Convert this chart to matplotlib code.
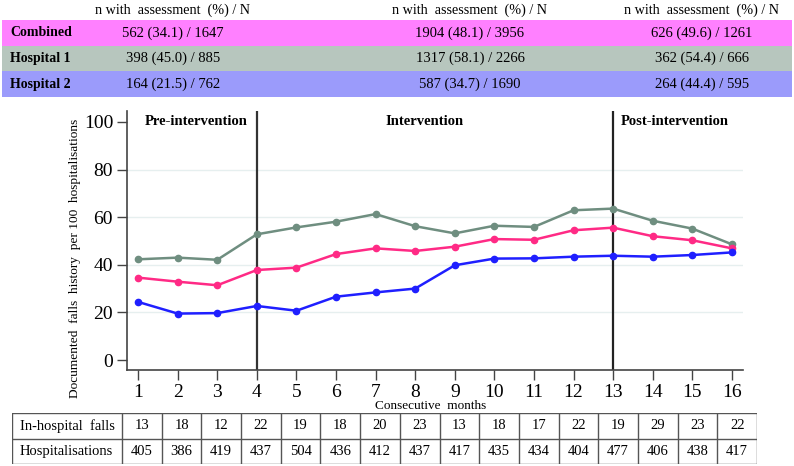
import numpy as np
import matplotlib
matplotlib.use('Agg')
import matplotlib.pyplot as plt
from matplotlib.patches import Rectangle

plt.rcParams['font.family'] = ['Liberation Serif', 'DejaVu Serif']

# Data
months = np.arange(1, 17)
combined = [34.6, 32.9, 31.4, 37.8, 38.8, 44.5, 46.9, 45.8, 47.6, 50.8, 50.5, 54.5, 55.6, 52.0, 50.3, 46.9]
hospital1 = [42.3, 43.0, 42.1, 52.8, 55.7, 58.1, 61.3, 56.2, 53.2, 56.4, 55.9, 62.9, 63.6, 58.5, 55.2, 48.6]
hospital2 = [24.4, 19.5, 19.7, 22.7, 20.7, 26.6, 28.4, 30.0, 39.8, 42.6, 42.7, 43.4, 43.8, 43.4, 44.1, 45.2]

groups = ['Combined', 'Hospital 1', 'Hospital 2']
pre_counts = ['562 (34.1) / 1647', '398 (45.0) / 885', '164 (21.5) / 762']
int_counts = ['1904 (48.1) / 3956', '1317 (58.1) / 2266', '587 (34.7) / 1690']
post_counts = ['626 (49.6) / 1261', '362 (54.4) / 666', '264 (44.4) / 595']
band_colors = ['#FF80FF', '#B7C6BE', '#9B9BFB']

falls = [13, 18, 12, 22, 19, 18, 20, 23, 13, 18, 17, 22, 19, 29, 23, 22]
hospitalisations = [405, 386, 419, 437, 504, 436, 412, 437, 417, 435, 434, 404, 477, 406, 438, 417]

W, H = 794, 466
fig = plt.figure(figsize=(W / 100, H / 100), dpi=100)


def px_axes(x0, y0, x1, y1):
    return fig.add_axes([x0 / W, 1 - y1 / H, (x1 - x0) / W, (y1 - y0) / H])


# Top band table
top = px_axes(2, 0, 792, 97)
top.set_xlim(2, 792)
top.set_ylim(97, 0)
top.axis('off')
col_x = [173, 470, 702]
for cx in col_x:
    top.text(cx, 10, 'n with  assessment  (%) / N', ha='center', va='center', fontsize=10.2)
for i, (g, c) in enumerate(zip(groups, band_colors)):
    y0 = 20 + i * 25.7
    top.add_patch(Rectangle((2, y0), 790, 25.7, color=c, lw=0))
    yc = y0 + 12.8
    top.text(10, yc, g, ha='left', va='center', fontsize=10, fontweight='bold')
    top.text(col_x[0], yc, pre_counts[i], ha='center', va='center', fontsize=10.5)
    top.text(col_x[1], yc, int_counts[i], ha='center', va='center', fontsize=10.5)
    top.text(col_x[2], yc, post_counts[i], ha='center', va='center', fontsize=10.5)

# Main chart
ax = px_axes(127, 111, 743, 370)
ax.set_xlim(0.72, 16.28)
ax.set_ylim(-4.2, 104.6)
for yv in [20, 40, 60, 80]:
    ax.axhline(yv, color='#E6EFEF', lw=1, zorder=0)
ax.axvline(4, color='#333333', lw=1.6, zorder=1)
ax.axvline(13, color='#222222', lw=1.6, zorder=1)
ax.plot(months, hospital1, color='#6F8E80', lw=1.8, marker='o', ms=4.5, zorder=3)
ax.plot(months, combined, color='#FF2A85', lw=1.8, marker='o', ms=4.5, zorder=3)
ax.plot(months, hospital2, color='#1F1FFF', lw=1.8, marker='o', ms=4.5, zorder=3)

ax.text(1.18, 100, 'Pre-intervention', fontsize=10.5, fontweight='bold', va='center')
ax.text(7.25, 100, 'Intervention', fontsize=10.5, fontweight='bold', va='center')
ax.text(13.18, 100, 'Post-intervention', fontsize=10.5, fontweight='bold', va='center')

ax.set_xticks(months)
ax.set_yticks([0, 20, 40, 60, 80, 100])
ax.tick_params(axis='both', labelsize=14, length=7, width=1, color='#444444')
ax.tick_params(axis='x', pad=3)
ax.tick_params(axis='y', pad=3)
for s in ['top', 'right']:
    ax.spines[s].set_visible(False)
for s in ['left', 'bottom']:
    ax.spines[s].set_color('#444444')
    ax.spines[s].set_linewidth(1.2)
ax.set_ylabel('Documented  falls  history  per 100  hospitalisations', fontsize=9.6)
ax.yaxis.set_label_coords(-0.075, 0.43)
fig.text(431 / W, 1 - 406 / H, 'Consecutive  months', ha='center', va='center', fontsize=9.5)

# Bottom table
tb = px_axes(12, 413, 757, 464)
tb.set_xlim(12, 757)
tb.set_ylim(464, 413)
tb.axis('off')
cw = (757 - 122) / 16
row_h = 25.5
grid_kw = dict(color='#555555', lw=1)
for yv in [413, 413 + row_h, 464]:
    tb.plot([12, 757], [yv, yv], **grid_kw)
tb.plot([12, 12], [413, 464], **grid_kw)
for k in range(17):
    xv = 122 + k * cw
    tb.plot([xv, xv], [413, 464], **grid_kw)
tb.text(20, 413 + row_h / 2, 'In-hospital  falls', va='center', fontsize=10.5)
tb.text(20, 413 + row_h * 1.5, 'Hospitalisations', va='center', fontsize=10.5)
for k in range(16):
    xc = 122 + (k + 0.5) * cw
    tb.text(xc, 413 + row_h / 2, str(falls[k]), ha='center', va='center', fontsize=10.5)
    tb.text(xc, 413 + row_h * 1.5, str(hospitalisations[k]), ha='center', va='center', fontsize=10.5)

fig.savefig('out.png', dpi=100)
